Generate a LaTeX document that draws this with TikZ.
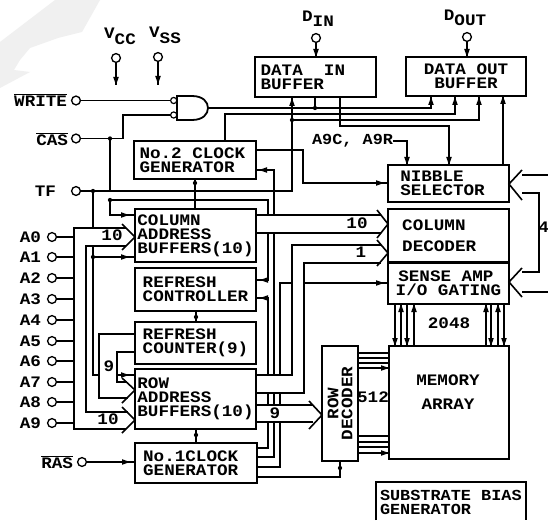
\documentclass[tikz,border=0pt]{standalone}
\usepackage{fontspec}
\setmainfont[FakeStretch=1.1]{Liberation Mono}
\tikzset{
  x=0.75pt,y=-0.75pt,
  wire/.style={draw=black,line width=1.05pt,line join=miter},
  hvy/.style={draw=black,line width=1.2pt,line join=miter},
  thin wire/.style={draw=black,line width=0.8pt},
  blk/.style={draw=black,line width=1.35pt,rectangle,inner sep=0pt,outer sep=0pt,align=left,font=\bfseries\fontsize{12}{10.5}\selectfont},
  txt/.style={inner sep=0pt,outer sep=0pt,font=\bfseries\fontsize{12}{10.5}\selectfont,align=center},
  pinc/.style={circle,draw=black,line width=1pt,fill=white,minimum size=6.6pt,inner sep=0pt,outer sep=0pt},
  bub/.style={circle,draw=black,line width=0.9pt,fill=white,minimum size=4.6pt,inner sep=0pt,outer sep=0pt},
  jdot/.style={circle,fill=black,minimum size=3.2pt,inner sep=0pt,outer sep=0pt},
}
\newcommand{\bx}[6]{\node[blk,minimum width={(#4-#2)*0.75pt},minimum height={(#5-#3)*0.75pt}] (#1) at ({(#2+#4)/2},{(#3+#5)/2}) {#6};}
\newcommand{\tipR}[2]{\fill (#1,#2) -- ++(-8,-2.8) -- ++(0,5.6) -- cycle;}
\newcommand{\tipL}[2]{\fill (#1,#2) -- ++(8,-2.8) -- ++(0,5.6) -- cycle;}
\newcommand{\tipU}[2]{\fill (#1,#2) -- ++(-2.8,8) -- ++(5.6,0) -- cycle;}
\newcommand{\tipD}[2]{\fill (#1,#2) -- ++(-2.8,-8) -- ++(5.6,0) -- cycle;}
\begin{document}
\begin{tikzpicture}
\useasboundingbox (0,0) rectangle (548,520);
\fill[white] (0,0) rectangle (548,520);
% pale watermark
\fill[black!6] (0,42) -- (55,0) -- (100,0) -- (82,32) -- (58,38) -- (30,48) -- (20,60) -- (14,70) -- (30,72) -- (0,88) -- cycle;
% blocks
\bx{dib}{255}{57}{376}{97}{DATA\ \ IN\hspace*{19pt}\\BUFFER}
\bx{dob}{406}{57}{526}{96}{DATA OUT\\\hspace*{7.9pt}BUFFER}
\bx{clk2}{134}{141}{256}{179}{No.2 CLOCK\hspace*{4pt}\\GENERATOR}
\bx{cab}{135}{209}{256}{262}{COLUMN\\ADDRESS\\BUFFERS(10)}
\bx{rfc}{135}{268}{256}{311}{REFRESH\\CONTROLLER}
\bx{rcnt}{135}{322}{256}{364}{REFRESH\\COUNTER(9)}
\bx{rab}{135}{369}{256}{429}{ROW\\ADDRESS\\BUFFERS(10)}
\bx{clk1}{135}{443}{257}{483}{No.1CLOCK\hspace*{8pt}\\GENERATOR}
\bx{nib}{388}{165}{509}{202}{NIBBLE\\SELECTOR\hspace*{9pt}}
\bx{cdec}{388}{209}{509}{262}{COLUMN\\[5pt]DECODER\hspace*{14pt}}
\bx{sns}{388}{263}{509}{304}{\hspace*{2pt}SENSE AMP\\I/O GATING}
\bx{rdec}{322}{346}{358}{461}{}
\node[txt,rotate=90] (rdect) at (rdec) {ROW\\DECODER};
\bx{mem}{389}{346}{509}{459}{}
\node[txt] (memt) at (448,392) {MEMORY\\[7pt]ARRAY};
\node[txt,align=left,anchor=west,font=\bfseries\fontsize{11.5}{10.5}\selectfont] (subt) at (380,502) {SUBSTRATE BIAS\\GENERATOR};
\draw[line width=1.35pt] (376,520) -- (376,482) coordinate (subtl) -- (526,482) -- (526,520);
% pins
\node[pinc] (pvcc) at (116,58) {};
\node[pinc] (pvss) at (158,57) {};
\coordinate (evcc) at (116,85);
\coordinate (evss) at (158,85);
\node[pinc] (pdin) at (316,38) {};
\node[pinc] (pdout) at (467,37) {};
\node[pinc] (pwr) at (76,100.5) {};
\node[pinc] (pcas) at (76,138.5) {};
\node[pinc] (ptf) at (76,191) {};
\node[pinc] (pras) at (82,462) {};
\node[txt] (lvcc) at (120,36) {V\raisebox{-4.5pt}{CC}};
\node[txt] (lvss) at (165,35) {V\raisebox{-4.5pt}{SS}};
\node[txt] (ldin) at (318,19) {D\raisebox{-4pt}{IN}};
\node[txt] (ldout) at (465,18) {D\raisebox{-4pt}{OUT}};
\node[txt,anchor=east] (lwr) at (67,100) {$\overline{\hbox{WRITE}}$};
\node[txt,anchor=east] (lcas) at (68,139) {$\overline{\hbox{CAS}}$};
\node[txt,anchor=east] (ltf) at (56,191) {TF};
\node[txt,anchor=east] (lras) at (73,462) {$\overline{\hbox{RAS}}$};
\foreach \n/\yy in {0/237,1/257,2/278,3/299,4/320,5/341,6/361,7/382,8/402,9/423}{
  \node[pinc] (pa\n) at (52,\yy) {};
  \node[txt,anchor=east] (la\n) at (41,\yy) {A\n};
  \draw[wire] (pa\n) -- (74,\yy);
}
% gate
\node[bub] (bub1) at (173.7,100.5) {};
\node[bub] (bub2) at (173.7,115) {};
\draw[line width=1.35pt,fill=white] (177,96) -- (192,96) .. controls (203,96) and (208,102) .. (208,108) coordinate (gout) .. controls (208,114) and (203,120) .. (192,120) -- (177,120) -- cycle;
% power
\draw[wire] (pvcc) -- (evcc);
\draw[wire] (pvss) -- (evss);
\tipD{116}{85}\tipD{158}{84}
\draw[wire] (pdin) -- (dib.north -| pdin);
\draw[wire] (pdout) -- (dob.north -| pdout);
\tipD{316}{57}\tipD{467}{57}
% WRITE, CAS
\draw[wire] (pwr) -- (bub1);
\draw[wire] (pcas) -- (123,138.5) -- (123,115) -- (bub2);
\draw[wire] (110,138.5) -- (110,191);
\node[jdot] (j1) at (110,138.5) {};
% TF
\draw[wire] (ptf) -- (292,191) -- (292,97);
\node[jdot] (j2) at (93,191) {};
\tipU{292}{98}
\draw[wire] (93,191) -- (93,228);
\draw[wire] (93,246) -- (93,375) -- (99,375);
\node[jdot] (j3) at (93,257) {};
\draw[wire] (j3) -- (cab.west |- j3);
\tipR{129}{257}
\draw[wire] (rab.west |- 0,375) -- (117,375);
\tipR{129}{375}
% gate output etc
\draw[wire] (gout) -- (431,108) -- (431,97);
\node[jdot] (j4) at (315,108) {};
\draw[wire] (j4) -- (dib.south -| j4);
\draw[wire] (clk2.north -| 225,0) -- (225,114) -- (455,114) -- (455,97);
\node[jdot] (j5) at (292,120) {};
\draw[wire] (j5) -- (479,120) -- (479,97);
\tipU{479}{97}\tipU{431}{97}\tipU{455}{97}
\draw[wire] (340,97) -- (340,126) -- (449,126) -- (nib.north -| 449,0);
\tipD{449}{165}
\coordinate (a9) at (393,141);
\node[txt,anchor=east,font=\bfseries\fontsize{11.5}{10.5}\selectfont] (la9) at (a9) {A9C, A9R};
\draw[wire] (a9) -- (407,141) -- (nib.north -| 407,0);
\tipD{407}{165}
\draw[wire] (nib.north -| 503,0) -- (dob.south -| 503,0);
\tipU{503}{96}
% No2 clock connections
\draw[wire] (clk2.east |- 0,150) -- (303,150) -- (303,183) -- (nib.west |- 0,183);
\tipR{384}{183}
\draw[wire] (clk2.east |- 0,170) -- (274,170) -- (274,215);
\tipL{259}{170}
\node[jdot] (j6) at (195,183) {};
\draw[wire] (195,179) -- (195,209);
% clock to column
\node[jdot] (j7) at (110,200) {};
\draw[wire] (j7) -- (268,200) -- (268,215);
\draw[wire] (j7) -- (110,215) -- (cab.west |- 0,215);
\tipR{129}{215}
% x=268
\draw[wire] (268,233) -- (268,280) -- (rfc.east |- 0,280);
\tipL{260}{280}
\draw[wire] (rfc.east |- 0,298) -- (268,298) -- (268,375);
\tipL{260}{298}
\draw[wire] (268,393) -- (268,405);
\draw[wire] (268,422) -- (268,448) -- (clk1.east |- 0,448);
% x=274
\draw[wire] (274,233) -- (274,375);
\draw[wire] (274,393) -- (274,405);
\draw[wire] (274,422) -- (274,457) -- (clk1.east |- 0,457);
% x=280
\draw[wire] (292,283) -- (280,283) -- (280,375);
\draw[wire] (280,393) -- (280,405);
\draw[wire] (280,422) -- (280,467) -- (clk1.east |- 0,467);
\draw[wire] (304,283) -- (sns.west |- 0,283);
\tipR{384}{283}
% to row decoder
\draw[wire] (clk1.east |- 0,477) -- (340,477) -- (rdec.south -| 340,0);
\node[jdot] (j8) at (340,468) {};
% verticals between blocks
\draw[wire] (rfc.south -| 196,0) -- (rcnt.north -| 196,0);
\node[jdot] (j9) at (196,317) {};
\draw[wire] (rab.south -| 196,0) -- (clk1.north -| 196,0);
\node[jdot] (j10) at (196,435) {};
% RAS
\draw[wire] (pras) -- (clk1.west |- pras);
\tipR{130}{462}
% Address buses
\draw[hvy] (126,228) -- (74,228) -- (74,429) -- (126,429);
\draw[hvy] (126,246) -- (86,246) -- (86,412) -- (128,412);
\draw[hvy] (122,224) -- (cab.west |- 0,237) -- (122,250);
\draw[hvy] (122,407) -- (rab.west |- 0,420) -- (122,433);
\node[txt] (l10a) at (112,235) {10};
\node[txt] (l10b) at (108,419) {10};
% refresh bus
\draw[hvy] (rcnt.west |- 0,334) -- (99,334) -- (99,398) -- (128,398);
\draw[hvy] (rcnt.west |- 0,352) -- (117,352) -- (117,382) -- (127,382);
\draw[hvy] (122,378) -- (rab.west |- 0,390) -- (122,403);
\node[txt] (l9a) at (109,366) {9};
% column bus
\draw[hvy] (cab.east |- 0,215) -- (381,215);
\draw[hvy] (cab.east |- 0,233) -- (381,233);
\draw[hvy] (377,210) -- (cdec.west |- 0,224) -- (377,238);
\node[txt] (l10c) at (357,223) {10};
% "1" bus
\draw[hvy] (rab.east |- 0,375) -- (292,375) -- (292,245) -- (381,245);
\draw[hvy] (rab.east |- 0,393) -- (304,393) -- (304,263) -- (381,263);
\draw[hvy] (377,240) -- (cdec.west |- 0,253) -- (377,266);
\node[txt] (l1) at (361,252) {1};
% row bus
\draw[hvy] (rab.east |- 0,405) -- (313,405);
\draw[hvy] (rab.east |- 0,422) -- (313,422);
\draw[hvy] (309,401) -- (rdec.west |- 0,415) -- (309,429);
\node[txt] (l9b) at (275,413) {9};
% row decoder to memory
\foreach \yy in {353,358,363,368,436,442,447,453}{
  \draw[thin wire] (rdec.east |- 0,\yy) -- (mem.west |- 0,\yy);
}
\foreach \yy in {368,453}{\tipR{389}{\yy}}
\node[txt] (l512) at (373,397) {512};
% sense to memory
\foreach \xx in {395,401,407,414,486,491,498,504}{
  \draw[thin wire] (sns.south -| \xx,0) -- (mem.north -| \xx,0);
}
\foreach \xx in {395,407,491,504}{\tipD{\xx}{346}}
\foreach \xx in {401,414,486,498}{\tipU{\xx}{304}}
\node[txt] (l2048) at (449,323) {2048};
% nibble right side
\draw[hvy] (548,175) -- (522,175);
\draw[hvy] (522,170) -- (nib.east |- 0,184) -- (522,200);
\draw[hvy] (522,193) -- (539,193) -- (539,272) -- (522,272);
\draw[hvy] (522,268) -- (sns.east |- 0,282) -- (522,297);
\draw[hvy] (548,292) -- (522,292);
\node[txt,anchor=east] (l4) at (549,227) {4};
\end{tikzpicture}
\end{document}
